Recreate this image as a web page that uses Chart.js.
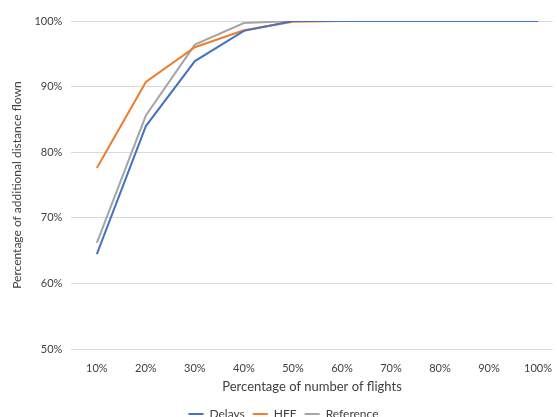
<!DOCTYPE html>
<html>
<head>
<meta charset="utf-8">
<script src="https://cdn.jsdelivr.net/npm/chart.js@4"></script>
<style>
html,body{margin:0;padding:0;background:#fff;overflow:hidden;}
#wrap{position:absolute;left:0;top:0;width:557px;height:430px;}
</style>
</head>
<body>
<div id="wrap"><canvas id="c"></canvas></div>
<script>
const xValues = [10, 20, 30, 40, 50, 60, 70, 80, 90, 100];
const delays = [64.5, 84.0, 93.9, 98.5, 100, 100, 100, 100, 100, 100];
const hfe = [77.6, 90.7, 96.0, 98.6, 99.9, 100, 100, 100, 100, 100];
const reference = [66.2, 85.6, 96.4, 99.7, 100, 100, 100, 100, 100, 100];
const yTicks = [50, 60, 70, 80, 90, 100];

const toPts = arr => arr.map((v, i) => ({x: xValues[i], y: v}));
const font = {family: 'Lato', size: 11};
const txt = '#404040';

new Chart(document.getElementById('c'), {
  type: 'line',
  data: {
    datasets: [
      {label: 'Delays', data: toPts(delays), borderColor: '#4472C4', backgroundColor: '#4472C4', borderWidth: 2, pointRadius: 0, tension: 0},
      {label: 'HFE', data: toPts(hfe), borderColor: '#ED7D31', backgroundColor: '#ED7D31', borderWidth: 2, pointRadius: 0, tension: 0},
      {label: 'Reference', data: toPts(reference), borderColor: '#A5A5A5', backgroundColor: '#A5A5A5', borderWidth: 2, pointRadius: 0, tension: 0}
    ]
  },
  options: {
    responsive: true,
    maintainAspectRatio: false,
    animation: false,
    layout: {padding: {left: 10, right: 0, top: 21, bottom: 0}},
    plugins: {
      tooltip: {enabled: false},
      legend: {
        position: 'bottom',
        labels: {boxWidth: 15, boxHeight: 2, padding: 8, color: txt, font: {family: 'Lato', size: 12},
          generateLabels: chart => chart.data.datasets.map((d, i) => ({text: d.label, fillStyle: d.borderColor, strokeStyle: d.borderColor, lineWidth: 0, datasetIndex: i, fontColor: txt}))
        }
      }
    },
    scales: {
      x: {
        type: 'linear', min: 4.8, max: 103,
        afterBuildTicks: s => { s.ticks = xValues.map(v => ({value: v})); },
        grid: {display: false},
        border: {display: false},
        ticks: {color: txt, font: font, padding: 5, callback: v => v + '%', maxRotation: 0, autoSkip: false},
        title: {display: true, text: 'Percentage of number of flights', color: txt, font: {family: 'Lato', size: 13}, padding: {top: -1, bottom: 5}}
      },
      y: {
        min: 50, max: 100,
        afterBuildTicks: s => { s.ticks = yTicks.map(v => ({value: v})); },
        grid: {color: '#d9d9d9', lineWidth: 1, drawTicks: false},
        border: {display: false},
        ticks: {color: txt, font: font, padding: 9, callback: v => v + '%'},
        title: {display: true, text: 'Percentage of additional distance flown', color: txt, font: {family: 'Lato', size: 12}, padding: {top: 0, bottom: 1}}
      }
    }
  }
});
</script>
</body>
</html>
